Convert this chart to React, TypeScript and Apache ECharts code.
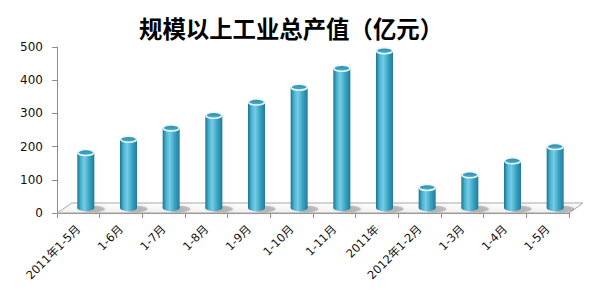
import React, { useEffect, useRef } from "react";
import * as echarts from "echarts";

const categories = [
  "2011年1-5月",
  "1-6月",
  "1-7月",
  "1-8月",
  "1-9月",
  "1-10月",
  "1-11月",
  "2011年",
  "2012年1-2月",
  "1-3月",
  "1-4月",
  "1-5月",
];
const outputValues = [167, 207, 241, 279, 319, 364, 421, 474, 62, 100, 142, 185];
const yTicks = { min: 0, max: 500, step: 100 };

// depth offset of the floor (px): back edge sits up and to the right
const DEPTH_X = 15;
const DEPTH_Y = -10;

export default function App() {
  const ref = useRef<HTMLDivElement>(null);

  useEffect(() => {
    document.body.style.margin = "0";
    if (!ref.current) return;
    const chart = echarts.init(ref.current, null, { renderer: "svg" });

    const bodyGradient = () =>
      new echarts.graphic.LinearGradient(0, 0, 1, 0, [
        { offset: 0, color: "#1a7390" },
        { offset: 0.22, color: "#4fb6d4" },
        { offset: 0.42, color: "#74cde4" },
        { offset: 0.7, color: "#3ba4c4" },
        { offset: 1, color: "#1e7c99" },
      ]);

    chart.setOption({
      animation: false,
      title: {
        text: "规模以上工业总产值（亿元）",
        left: 134,
        top: 11,
        textStyle: {
          fontFamily: "Noto Sans CJK SC",
          fontWeight: "bold",
          fontSize: 23.4,
          color: "#000",
        },
      },
      grid: { left: 57, right: 31, top: 47, bottom: 85, containLabel: false },
      xAxis: {
        type: "category",
        data: categories,
        boundaryGap: true,
        axisLine: { show: true, lineStyle: { color: "#8c8c8c", width: 1 } },
        axisTick: { show: true, alignWithLabel: false, interval: 0, length: 5, lineStyle: { color: "#8c8c8c" } },
        axisLabel: {
          interval: 0,
          rotate: 45,
          margin: 14,
          fontFamily: "DejaVu Sans, Noto Sans CJK SC",
          fontSize: 11.5,
          color: "#111",
        },
        splitLine: { show: false },
      },
      yAxis: {
        type: "value",
        min: yTicks.min,
        max: yTicks.max,
        interval: yTicks.step,
        axisLine: { show: true, lineStyle: { color: "#8c8c8c", width: 1 } },
        axisTick: { show: true, length: 5, lineStyle: { color: "#8c8c8c" } },
        axisLabel: {
          margin: 14,
          fontFamily: "DejaVu Sans",
          fontSize: 12,
          color: "#111",
        },
        splitLine: { show: false },
      },
      series: [
        {
          // floor plane under the columns
          type: "custom",
          z: 1,
          silent: true,
          data: [[0]],
          renderItem: (params: any) => {
            const cs = params.coordSys;
            const x0 = cs.x;
            const x1 = cs.x + cs.width;
            const y = cs.y + cs.height;
            return {
              type: "polygon",
              shape: {
                points: [
                  [x0, y],
                  [x1, y],
                  [x1 + DEPTH_X - 1, y + DEPTH_Y],
                  [x0 + DEPTH_X, y + DEPTH_Y],
                ],
              },
              style: {
                fill: new echarts.graphic.LinearGradient(0, 0, 0, 1, [
                  { offset: 0, color: "#ffffff" },
                  { offset: 1, color: "#f0f0f0" },
                ]),
                stroke: "#a8a8a8",
                lineWidth: 1,
              },
            };
          },
        },
        {
          type: "custom",
          z: 2,
          data: outputValues.map((v, i) => [i, v]),
          encode: { x: 0, y: 1 },
          renderItem: (params: any, api: any) => {
            const base = api.coord([api.value(0), 0]);
            const top = api.coord([api.value(0), api.value(1)]);
            const cx = base[0] + DEPTH_X / 2;
            const yb = base[1] + DEPTH_Y / 2;
            const yt = top[1] + DEPTH_Y / 2;
            const hw = 8.5;
            const ry = 3;
            const grad = bodyGradient();
            return {
              type: "group",
              children: [
                {
                  // soft shadow cast on the floor
                  type: "ellipse",
                  shape: { cx: cx + 7, cy: yb + 1, rx: 12, ry: 3.2 },
                  style: {
                    fill: "rgba(60,60,60,0.28)",
                    shadowBlur: 5,
                    shadowColor: "rgba(0,0,0,0.35)",
                  },
                },
                {
                  type: "ellipse",
                  shape: { cx, cy: yb, rx: hw, ry },
                  style: { fill: grad },
                },
                {
                  type: "rect",
                  shape: { x: cx - hw, y: yt, width: hw * 2, height: yb - yt },
                  style: { fill: grad },
                },
                {
                  type: "ellipse",
                  shape: { cx, cy: yt, rx: hw - 0.5, ry },
                  style: {
                    fill: new echarts.graphic.LinearGradient(0, 0, 0, 1, [
                      { offset: 0, color: "#2b89a8" },
                      { offset: 1, color: "#4fb2cf" },
                    ]),
                    stroke: "#eaf7fb",
                    lineWidth: 1.5,
                  },
                },
              ],
            };
          },
        },
      ],
    });

    return () => chart.dispose();
  }, []);

  return <div ref={ref} style={{ width: 600, height: 298 }} />;
}
